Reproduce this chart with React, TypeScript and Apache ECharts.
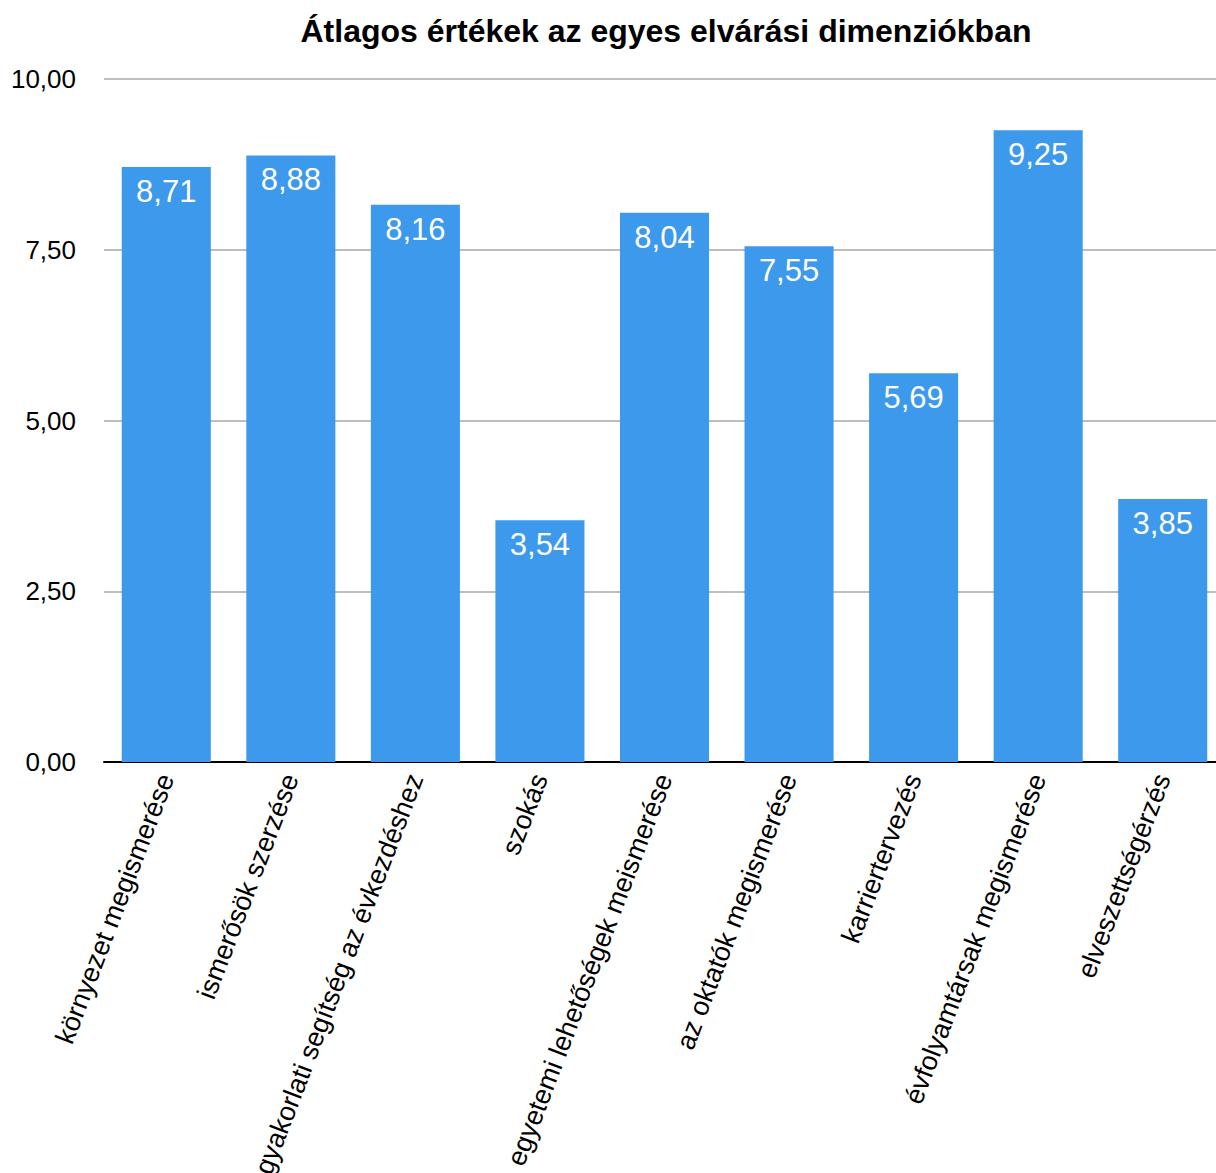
import React, { useEffect, useRef } from "react";
import * as echarts from "echarts";

const categories = [
  "környezet megismerése",
  "ismerősök szerzése",
  "gyakorlati segítség az évkezdéshez",
  "szokás",
  "egyetemi lehetőségek meismerése",
  "az oktatók megismerése",
  "karriertervezés",
  "évfolyamtársak megismerése",
  "elveszettségérzés",
];
const values = [8.71, 8.88, 8.16, 3.54, 8.04, 7.55, 5.69, 9.25, 3.85];
const title = "Átlagos értékek az egyes elvárási dimenziókban";

const fmt = (v: number) => v.toFixed(2).replace(".", ",");
const FONT = "'Liberation Sans', Arial, Helvetica, sans-serif";

export default function App() {
  const ref = useRef<HTMLDivElement>(null);
  useEffect(() => {
    if (!ref.current) return;
    const chart = echarts.init(ref.current, undefined, { renderer: "svg" });
    chart.setOption({
      animation: false,
      backgroundColor: "#ffffff",
      textStyle: { fontFamily: FONT },
      title: {
        text: title,
        left: 661,
        top: 10,
        textAlign: "center",
        textStyle: { fontSize: 32, fontWeight: "bold", color: "#000", fontFamily: FONT },
      },
      grid: {
        left: 104,
        top: 79,
        width: 1121,
        height: 683,
        containLabel: false,
        outerBoundsMode: "none",
      },
      xAxis: {
        type: "category",
        data: categories,
        axisLine: { show: true, lineStyle: { color: "#000", width: 2 } },
        axisTick: { show: false },
        axisLabel: {
          rotate: 69,
          interval: 0,
          margin: 13,
          fontSize: 27,
          color: "#000",
          fontFamily: FONT,
        },
      },
      yAxis: {
        type: "value",
        min: 0,
        max: 10,
        interval: 2.5,
        axisLine: { show: false },
        axisTick: { show: false },
        splitLine: { lineStyle: { color: "#bdbdbd", width: 2 } },
        axisLabel: {
          formatter: (v: number) => fmt(v),
          fontSize: 26,
          color: "#000",
          margin: 28,
          fontFamily: FONT,
        },
      },
      series: [
        {
          type: "bar",
          data: values,
          barCategoryGap: "28.5%",
          itemStyle: { color: "#3d99ec" },
          label: {
            show: true,
            position: "insideTop",
            distance: 9,
            formatter: (p: any) => fmt(p.value),
            color: "#fff",
            fontSize: 31,
            fontFamily: FONT,
          },
        },
      ],
    });
    return () => chart.dispose();
  }, []);
  return (
    <div
      style={{
        position: "absolute",
        left: 0,
        top: 0,
        width: 1216,
        height: 1173,
        overflow: "hidden",
        background: "#fff",
      }}
    >
      <div ref={ref} style={{ width: 1240, height: 1173 }} />
    </div>
  );
}
